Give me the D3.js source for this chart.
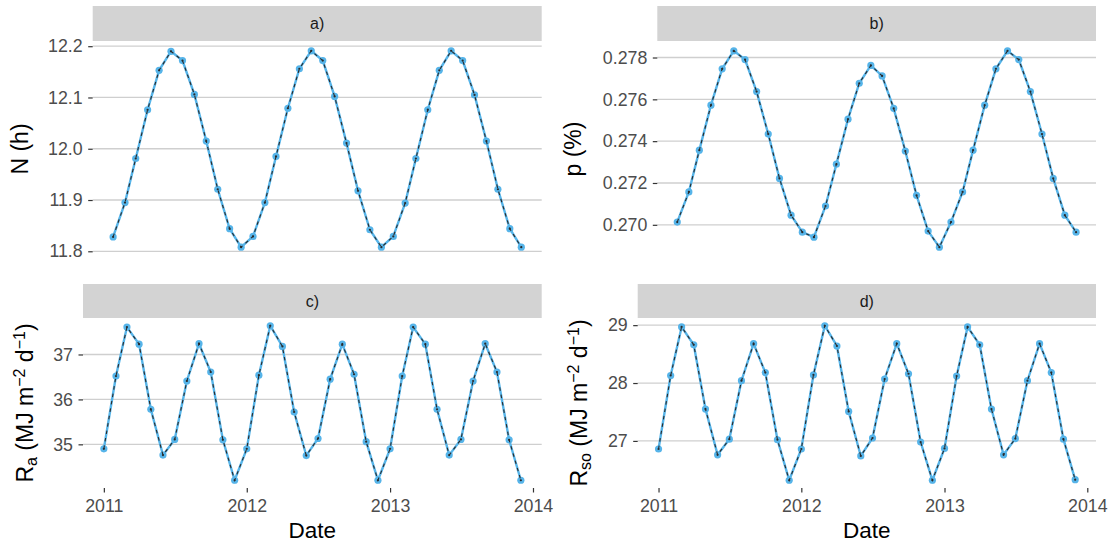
<!DOCTYPE html>
<html>
<head>
<meta charset="utf-8">
<script src="https://cdn.jsdelivr.net/npm/d3@7"></script>
<style>
  html, body { margin: 0; padding: 0; background: #fff; }
  svg { display: block; font-family: "Liberation Sans", Arial, Helvetica, sans-serif; }
</style>
</head>
<body>
<svg id="chart" width="1114" height="544"></svg>
<script>
// ---------------- DATA ----------------
const months = [
  "2011-01","2011-02","2011-03","2011-04","2011-05","2011-06","2011-07","2011-08","2011-09","2011-10","2011-11","2011-12",
  "2012-01","2012-02","2012-03","2012-04","2012-05","2012-06","2012-07","2012-08","2012-09","2012-10","2012-11","2012-12",
  "2013-01","2013-02","2013-03","2013-04","2013-05","2013-06","2013-07","2013-08","2013-09","2013-10","2013-11","2013-12"
];
const xTickLabels = ["2011", "2012", "2013", "2014"];
const panelLabels = ["a)", "b)", "c)", "d)"];

// a) daylight hours N (h)
const N_h = [
  11.828, 11.895, 11.981, 12.076, 12.153, 12.190, 12.172, 12.106, 12.015, 11.921, 11.844, 11.808,
  11.829, 11.895, 11.985, 12.079, 12.156, 12.191, 12.172, 12.102, 12.011, 11.918, 11.842, 11.808,
  11.829, 11.894, 11.981, 12.076, 12.153, 12.191, 12.172, 12.105, 12.015, 11.921, 11.844, 11.808
];
// b) p (%)
const p_pct = [
  0.27013, 0.27157, 0.27357, 0.27572, 0.27746, 0.27832, 0.27790, 0.27637, 0.27434, 0.27222, 0.27046, 0.26965,
  0.26941, 0.27090, 0.27290, 0.27505, 0.27677, 0.27762, 0.27712, 0.27557, 0.27353, 0.27141, 0.26970, 0.26893,
  0.27013, 0.27157, 0.27357, 0.27572, 0.27746, 0.27832, 0.27790, 0.27637, 0.27434, 0.27222, 0.27046, 0.26965
];
// c) Ra (MJ m-2 d-1)
const Ra = [
  34.90, 36.52, 37.61, 37.23, 35.78, 34.76, 35.11, 36.41, 37.24, 36.61, 35.10, 34.20,
  34.90, 36.54, 37.64, 37.18, 35.72, 34.75, 35.13, 36.45, 37.23, 36.56, 35.06, 34.20,
  34.90, 36.52, 37.61, 37.23, 35.78, 34.76, 35.11, 36.41, 37.24, 36.61, 35.10, 34.20
];
// d) Rso (MJ m-2 d-1)
const Rso = [
  26.86, 28.13, 28.97, 28.66, 27.55, 26.76, 27.03, 28.04, 28.68, 28.18, 27.02, 26.32,
  26.86, 28.14, 28.99, 28.64, 27.51, 26.74, 27.05, 28.07, 28.68, 28.16, 26.98, 26.32,
  26.87, 28.12, 28.97, 28.66, 27.55, 26.76, 27.04, 28.04, 28.68, 28.18, 27.03, 26.33
];
const yTicksA = [11.8, 11.9, 12.0, 12.1, 12.2];
const yTicksB = [0.270, 0.272, 0.274, 0.276, 0.278];
const yTicksC = [35, 36, 37];
const yTicksD = [27, 28, 29];

// ---------------- DRAWING ----------------
const svg = d3.select("#chart");
const parseMonth = d3.timeParse("%Y-%m");
const parseYear = d3.timeParse("%Y");
const dates = months.map(parseMonth);
const yearDates = xTickLabels.map(parseYear);

const BLUE = "#56B4E9";
const TICK_TEXT = "#4d4d4d";

const panels = [
  { label: panelLabels[0], values: N_h, ticks: yTicksA, fmt: d3.format(".1f"),
    box: { left: 92.7, right: 541.7, top: 41, bottom: 257, stripTop: 6 },
    title: [{ t: "N (h)" }], titleX: 27.5, showX: false },
  { label: panelLabels[1], values: p_pct, ticks: yTicksB, fmt: d3.format(".3f"),
    box: { left: 657.3, right: 1096, top: 41, bottom: 257, stripTop: 6 },
    title: [{ t: "p (%)" }], titleX: 581, showX: false },
  { label: panelLabels[2], values: Ra, ticks: yTicksC, fmt: d3.format("d"),
    box: { left: 83, right: 541.7, top: 318, bottom: 488, stripTop: 284 },
    title: [{ t: "R" }, { t: "a", sub: true }, { t: " (MJ m" }, { t: "\u22122", sup: true }, { t: " d" }, { t: "\u22121", sup: true }, { t: ")" }],
    titleX: 33, showX: true },
  { label: panelLabels[3], values: Rso, ticks: yTicksD, fmt: d3.format("d"),
    box: { left: 637.7, right: 1096, top: 318, bottom: 488, stripTop: 284 },
    title: [{ t: "R" }, { t: "so", sub: true }, { t: " (MJ m" }, { t: "\u22122", sup: true }, { t: " d" }, { t: "\u22121", sup: true }, { t: ")" }],
    titleX: 587, showX: true }
];

function expand(ext, f) {
  const r = ext[1] - ext[0];
  return [ext[0] - f * r, ext[1] + f * r];
}

panels.forEach(p => {
  const b = p.box;
  const g = svg.append("g");

  const xExt = d3.extent(dates).map(d => +d);
  const xDom = expand(xExt, 0.05).map(v => new Date(v));
  const x = d3.scaleTime().domain(xDom).range([b.left, b.right]);
  const y = d3.scaleLinear().domain(expand(d3.extent(p.values), 0.05)).range([b.bottom, b.top]);

  // strip
  g.append("rect")
    .attr("x", b.left).attr("y", b.stripTop)
    .attr("width", b.right - b.left).attr("height", b.top - b.stripTop)
    .attr("fill", "#d3d3d3");
  g.append("text")
    .attr("x", (b.left + b.right) / 2)
    .attr("y", (b.stripTop + b.top) / 2 + 5.5)
    .attr("text-anchor", "middle")
    .attr("font-size", 16)
    .attr("fill", "#1a1a1a")
    .text(p.label);

  // gridlines
  g.append("g").selectAll("line").data(p.ticks).join("line")
    .attr("x1", b.left).attr("x2", b.right)
    .attr("y1", d => y(d)).attr("y2", d => y(d))
    .attr("stroke", "#cfcfcf").attr("stroke-width", 1.3);

  // y axis
  const ya = g.append("g").attr("transform", `translate(${b.left},0)`)
    .call(d3.axisLeft(y).tickValues(p.ticks).tickFormat(p.fmt).tickSize(4.5).tickPadding(5.5));
  ya.select(".domain").remove();
  ya.selectAll(".tick line").attr("stroke", "#333").attr("stroke-width", 1.2);
  ya.selectAll(".tick text").attr("fill", TICK_TEXT).attr("font-size", 17.8)
    .attr("font-family", "Liberation Sans, Arial, sans-serif");

  // x axis
  if (p.showX) {
    const xa = g.append("g").attr("transform", `translate(0,${b.bottom})`)
      .call(d3.axisBottom(x).tickValues(yearDates).tickFormat((d, i) => xTickLabels[i]).tickSize(4.5).tickPadding(6.5));
    xa.select(".domain").remove();
    xa.selectAll(".tick line").attr("stroke", "#333").attr("stroke-width", 1.2);
    xa.selectAll(".tick text").attr("fill", TICK_TEXT).attr("font-size", 17.8)
      .attr("font-family", "Liberation Sans, Arial, sans-serif");
    g.append("text")
      .attr("x", (b.left + b.right) / 2).attr("y", 538)
      .attr("text-anchor", "middle").attr("font-size", 22.5).attr("fill", "#000")
      .text("Date");
  }

  // y title
  const tt = g.append("text")
    .attr("transform", `translate(${p.titleX},${(b.top + b.bottom) / 2}) rotate(-90)`)
    .attr("text-anchor", "middle").attr("font-size", 23).attr("fill", "#000");
  p.title.forEach(part => {
    const s = tt.append("tspan").text(part.t);
    if (part.sub) s.attr("font-size", 16).attr("baseline-shift", "-4");
    if (part.sup) s.attr("font-size", 16).attr("baseline-shift", "8");
  });

  const pts = dates.map((d, i) => ({ d, v: p.values[i] }));
  const line = d3.line().x(d => x(d.d)).y(d => y(d.v));

  // observed (blue)
  g.append("path").datum(pts).attr("d", line)
    .attr("fill", "none").attr("stroke", BLUE).attr("stroke-width", 2.4);
  g.append("g").selectAll("circle").data(pts).join("circle")
    .attr("cx", d => x(d.d)).attr("cy", d => y(d.v)).attr("r", 3.6).attr("fill", BLUE);
  // estimated (black dashed)
  g.append("path").datum(pts).attr("d", line)
    .attr("fill", "none").attr("stroke", "#2a2a2a").attr("stroke-width", 1.1)
    .attr("stroke-dasharray", "3.5,4");
  g.append("g").selectAll("circle").data(pts).join("circle")
    .attr("cx", d => x(d.d)).attr("cy", d => y(d.v)).attr("r", 1.1).attr("fill", "#2a2a2a");
});
</script>
</body>
</html>
